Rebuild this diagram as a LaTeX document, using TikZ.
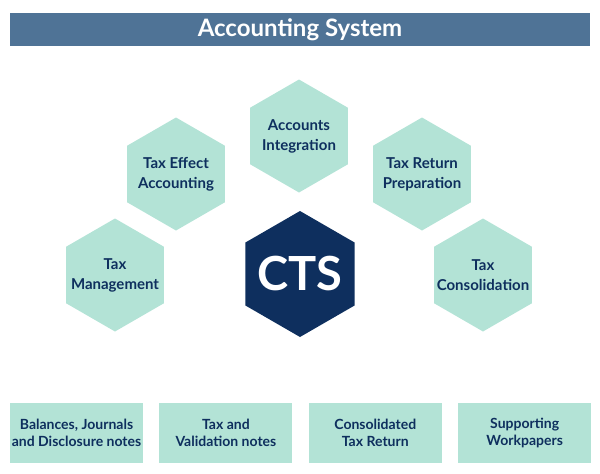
\documentclass[tikz,border=0pt]{standalone}
\usepackage{fontspec}
\setmainfont{Lato}
\usetikzlibrary{shapes.geometric,positioning}
\definecolor{barblue}{HTML}{4F7396}
\definecolor{mint}{HTML}{B3E3D6}
\definecolor{navy}{HTML}{0E2F5E}
\tikzset{
    hexa/.style={
           regular polygon, regular polygon sides=6,
           shape border rotate=30,
           fill=mint, draw=none,
           minimum size=113pt,
           inner sep=-25pt,
           text=navy,
           align=center,
           font=\fontsize{15}{20}\selectfont\bfseries},
    core/.style={
           hexa,
           fill=navy,
           minimum size=126pt,
           text=white,
           font=\fontsize{47}{47}\selectfont\bfseries},
    kasse/.style={
           rectangle,
           fill=mint,
           minimum width=133pt, minimum height=60pt,
           inner sep=0pt,
           text=navy,
           align=center,
           font=\fontsize{14}{17}\selectfont\bfseries}
}
\begin{document}
\begin{tikzpicture}[x=1pt, y=-1pt, node distance=16pt]
        \useasboundingbox (0,0) rectangle (600,474);
        \node[fill=barblue, minimum width=580pt, minimum height=33pt, inner sep=0pt,
              text=white, font=\fontsize{24}{24}\selectfont\bfseries] (title) at (300,29.5) {Accounting System};

        \node[core] (cts) at (300,274) {CTS};
        \node[hexa] (integ) at (299,136) {Accounts\\Integration};
        \node[hexa] (effect) at (176,174) {Tax Effect\\Accounting};
        \node[hexa] (ret) at (422,174) {Tax Return\\Preparation};
        \node[hexa] (mgmt) at (115,275) {Tax\\Management};
        \node[hexa] (consol) at (483,275) {Tax\\Consolidation};

        \node[kasse] (b1) at (76.5,433) {Balances, Journals\\and Disclosure notes};
        \node[kasse, right=of b1] (b2) {Tax and\\Validation notes};
        \node[kasse, right=of b2] (b3) {Consolidated\\Tax Return};
        \node[kasse, right=of b3] (b4) {Supporting\\Workpapers};
    \end{tikzpicture}
\end{document}
